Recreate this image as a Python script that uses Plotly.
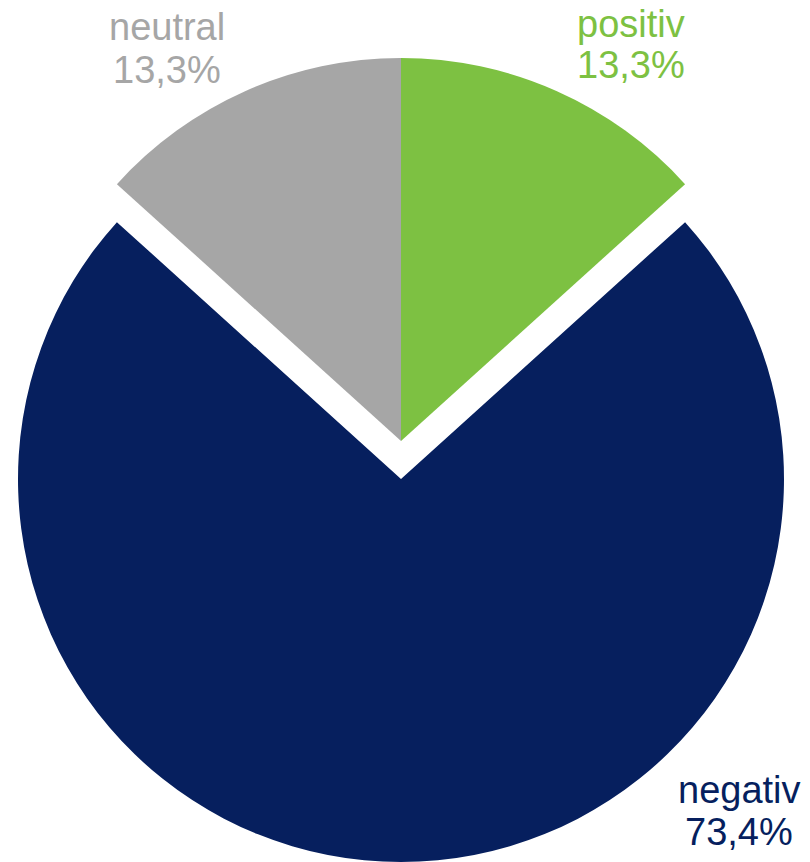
import plotly.graph_objects as go

categories = ["positiv", "negativ", "neutral"]
values = [13.3, 73.4, 13.3]
value_labels = ["13,3%", "73,4%", "13,3%"]
colors = ["#7DC142", "#061F5E", "#A6A6A6"]

W, H = 810, 862
R = 383
CX = 401
CY_TOP = 441
CY_PULL = 479

def dom(cx, cy, r):
    return dict(x=[(cx - r) / W, (cx + r) / W], y=[1 - (cy + r) / H, 1 - (cy - r) / H])

clear = "rgba(0,0,0,0)"
fig = go.Figure()
# positiv + neutral
fig.add_trace(go.Pie(
    labels=categories, values=values, sort=False, direction="clockwise", rotation=0,
    marker=dict(colors=[colors[0], clear, colors[2]], line=dict(width=0)),
    textinfo="none", hoverinfo="skip", showlegend=False, domain=dom(CX, CY_TOP, R)))
# negativ (exploded)
fig.add_trace(go.Pie(
    labels=categories, values=values, sort=False, direction="clockwise", rotation=0,
    marker=dict(colors=[clear, colors[1], clear], line=dict(width=0)),
    textinfo="none", hoverinfo="skip", showlegend=False, domain=dom(CX, CY_PULL, R)))

label_pos = {
    "positiv": (631, 24, 65),
    "negativ": (739, 790, 832),
    "neutral": (167, 27, 70),
}
font = "Liberation Sans, Arial, sans-serif"
for cat, val, col in zip(categories, value_labels, colors):
    x, y1, y2 = label_pos[cat]
    for txt, yy in ((cat, y1), (val, y2)):
        fig.add_annotation(x=x / W, y=1 - yy / H, xref="paper", yref="paper",
                           text=txt, showarrow=False, xanchor="center", yanchor="middle",
                           font=dict(family=font, size=38, color=col))

fig.update_layout(width=W, height=H, margin=dict(l=0, r=0, t=0, b=0),
                  paper_bgcolor="white", plot_bgcolor="white")
fig.write_html("out.html", config={"displayModeBar": False},
               post_script="document.body.style.margin='0';document.body.style.overflow='hidden';")
